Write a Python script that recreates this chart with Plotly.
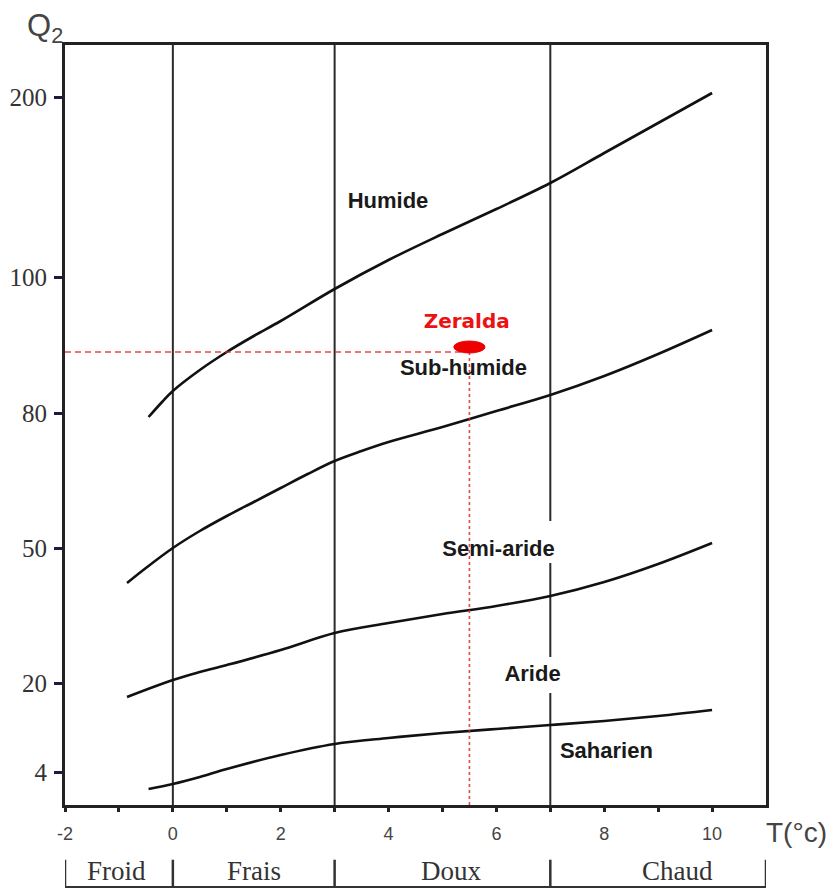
import plotly.graph_objects as go

# ---- Emberger climagram data ----
# y axis of the climagram is non-linear: values are positions along the Q2 scale
q2_tick_labels = ["4", "20", "50", "80", "100", "200"]
q2_tick_pos = [33, 122, 257, 392, 528, 708]

# boundary curves: T = m (°C), Q = position on the Q2 scale
t_humide = [-0.45, -0.2, 0, 0.5, 1, 1.5, 2, 3, 4, 5, 6, 7, 8, 9, 10]
q_humide = [388, 403, 414, 435, 453, 469, 484, 516, 545, 571, 596, 622, 652, 682, 712]

t_subhumide = [-0.85, -0.5, 0, 0.5, 1, 1.5, 2, 2.5, 3, 3.5, 4, 5, 6, 7, 8, 9, 10]
q_subhumide = [222, 237, 257, 274, 289, 303, 317, 331, 344, 354, 363, 378, 394, 410,
               429, 451, 475]

t_semiaride = [-0.85, 0, 0.5, 1, 2, 3, 4, 5, 6, 7, 8, 9, 10]
q_semiaride = [108, 125, 133, 140, 155, 172, 182, 191, 199, 209, 223, 241, 262]

t_aride = [-0.45, 0, 0.5, 1, 2, 3, 4, 5, 6, 7, 8, 9, 10]
q_aride = [16, 21, 28, 36, 50, 61, 67, 72, 76, 80, 84, 89, 95]

# zone labels
zone_names = ["Humide", "Sub-humide", "Semi-aride", "Aride", "Saharien"]
zone_t = [3.99, 5.39, 6.04, 6.67, 8.04]
zone_q = [603, 436, 255, 130, 53]

# station
station_name = "Zeralda"
station_t = 5.5
station_q = 453

# thermal variants
variant_bounds = [-2, 0, 3, 7, 11]
variant_names = ["Froid", "Frais", "Doux", "Chaud"]
variant_label_t = [-1.04, 1.51, 5.16, 9.35]

x_range = [-2, 11]
y_range = [0, 760]

fig = go.Figure()

# vertical winter-temperature boundaries (x = 7 broken behind two labels)
for xb in variant_bounds[1:-1]:
    if xb == 7:
        ys = [y_range[0], zone_q[3] - 18, None, zone_q[3] + 18, zone_q[2] - 13, None,
              zone_q[2] + 29, y_range[1]]
        xs = [xb if y is not None else None for y in ys]
    else:
        xs = [xb, xb]
        ys = y_range
    fig.add_trace(go.Scatter(x=xs, y=ys, mode="lines",
                             line=dict(color="#2a2a2a", width=2),
                             hoverinfo="skip", connectgaps=False))

curve_style = dict(color="#111111", width=2.6, shape="spline", smoothing=1.0)
for tt, qq in [(t_humide, q_humide), (t_subhumide, q_subhumide),
               (t_semiaride, q_semiaride), (t_aride, q_aride)]:
    fig.add_trace(go.Scatter(x=tt, y=qq, mode="lines", line=curve_style,
                             hoverinfo="skip"))

# red guide lines for the station
fig.add_trace(go.Scatter(x=[x_range[0], station_t], y=[station_q, station_q],
                         mode="lines",
                         line=dict(color="rgba(225,40,40,0.85)", width=1.4,
                                   dash="6px,4px"), hoverinfo="skip"))
fig.add_trace(go.Scatter(x=[station_t, station_t], y=[station_q, y_range[0]],
                         mode="lines",
                         line=dict(color="rgba(225,40,40,0.85)", width=1.6,
                                   dash="3px,3px"), hoverinfo="skip"))

# zone labels
fig.add_trace(go.Scatter(x=zone_t, y=zone_q, mode="text",
                         text=["<b>%s</b>" % n for n in zone_names],
                         textfont=dict(family="Liberation Sans", size=22,
                                       color="#1a1a1a"),
                         hoverinfo="skip"))

# station label
fig.add_trace(go.Scatter(x=[station_t - 0.05], y=[station_q + 29], mode="text",
                         text=["<b>%s</b>" % station_name],
                         textfont=dict(family="DejaVu Sans", size=20,
                                       color="#ee1111"),
                         hoverinfo="skip"))

# station ellipse
fig.add_shape(type="circle", xref="x", yref="y",
              x0=station_t - 0.29, x1=station_t + 0.29,
              y0=station_q - 1, y1=station_q + 11,
              fillcolor="#ee0000", line=dict(color="#ee0000", width=1))

annotations = []
# thermal variant band below the axis
band_top = -0.072
band_bot = -0.108
for xb in variant_bounds:
    fig.add_shape(type="line", xref="x", yref="paper", x0=xb, x1=xb,
                  y0=band_top, y1=band_bot,
                  line=dict(color="#333333", width=2.5))
fig.add_shape(type="line", xref="x", yref="paper",
              x0=variant_bounds[0], x1=variant_bounds[-1],
              y0=band_bot, y1=band_bot, line=dict(color="#333333", width=2))
for name, xt in zip(variant_names, variant_label_t):
    annotations.append(dict(x=xt, y=-0.087, xref="x", yref="paper",
                            text=name, showarrow=False,
                            font=dict(family="Liberation Serif", size=27,
                                      color="#333333"),
                            xanchor="center", yanchor="middle"))

# axis titles
annotations.append(dict(x=-0.0, y=1.022, xref="paper", yref="paper",
                        text="Q<sub>2</sub>", showarrow=False,
                        font=dict(family="Liberation Sans", size=31,
                                  color="#444444"),
                        xanchor="right", yanchor="middle"))
annotations.append(dict(x=1.0435, y=-0.036, xref="paper", yref="paper",
                        text="T(°c)", showarrow=False,
                        font=dict(family="Liberation Sans", size=28,
                                  color="#444444"),
                        xanchor="center", yanchor="middle"))

x_ticks = list(range(-2, 11))
x_tick_text = [str(v) if v % 2 == 0 else "" for v in x_ticks]

# the page body adds an 8px offset, so the figure is 8px smaller on each axis
fig.update_layout(
    width=827, height=882,
    margin=dict(l=57, r=69, t=37, b=85, autoexpand=False),
    paper_bgcolor="white", plot_bgcolor="white",
    showlegend=False,
    annotations=annotations,
    xaxis=dict(range=x_range, showgrid=False, zeroline=False, automargin=False,
               showline=True, linecolor="#222222", linewidth=3, mirror=True,
               tickmode="array", tickvals=x_ticks, ticktext=x_tick_text,
               ticks="outside", ticklen=4, tickwidth=3, tickcolor="#222222",
               ticklabelstandoff=6,
               tickfont=dict(family="Liberation Sans", size=18, color="#444444")),
    yaxis=dict(range=y_range, showgrid=False, zeroline=False, automargin=False,
               showline=True, linecolor="#222222", linewidth=3, mirror=True,
               tickmode="array", tickvals=q2_tick_pos, ticktext=q2_tick_labels,
               ticks="outside", ticklen=8, tickwidth=3, tickcolor="#1c1c3a",
               ticklabelstandoff=2,
               tickfont=dict(family="Liberation Serif", size=25, color="#333333")),
)

fig.write_html("out.html")
